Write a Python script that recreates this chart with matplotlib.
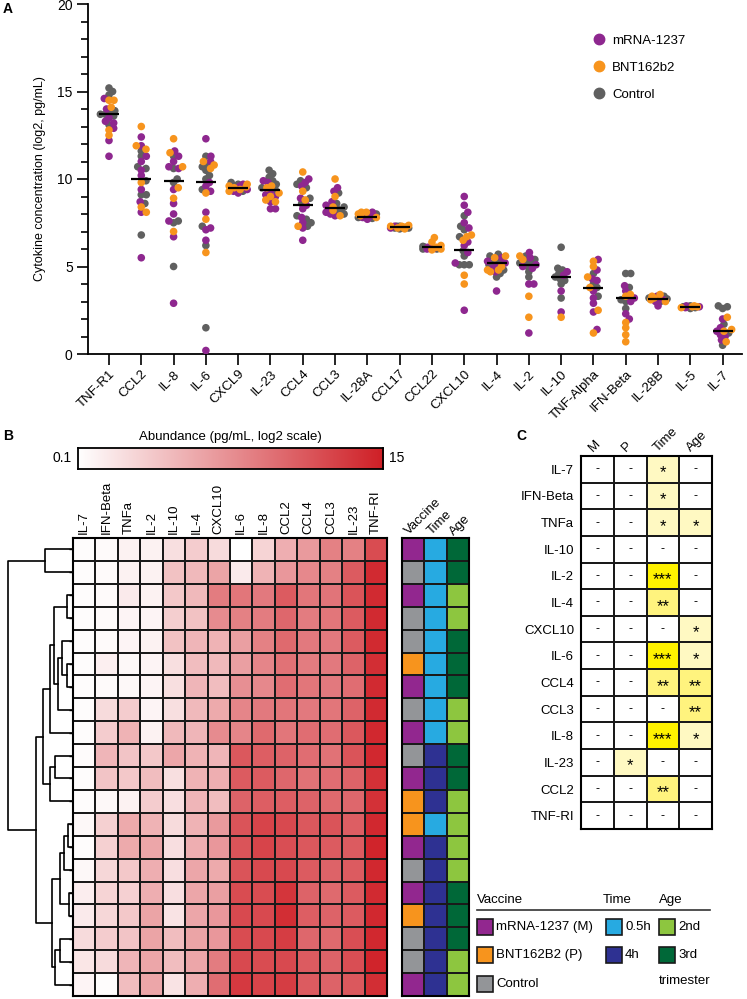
import numpy as np
import matplotlib
matplotlib.use("Agg")
import matplotlib.pyplot as plt
from matplotlib.colors import LinearSegmentedColormap, ListedColormap
from matplotlib.lines import Line2D
from matplotlib.patches import Rectangle

plt.rcParams['font.family'] = ['Liberation Sans', 'DejaVu Sans']

# ---------------- panel A data ----------------
cytokines = ["TNF-R1", "CCL2", "IL-8", "IL-6", "CXCL9", "IL-23", "CCL4", "CCL3", "IL-28A",
             "CCL17", "CCL22", "CXCL10", "IL-4", "IL-2", "IL-10", "TNF-Alpha", "IFN-Beta",
             "IL-28B", "IL-5", "IL-7"]
medians = [13.7, 10.0, 9.9, 9.85, 9.5, 9.4, 8.5, 8.35, 7.85, 7.25, 6.1, 5.95, 5.2, 5.1,
           4.4, 3.8, 3.2, 3.15, 2.7, 1.3]

mrna1237 = [
    [14.6, 14.0, 13.5, 13.3, 13.2, 12.9, 12.2, 11.3],
    [12.4, 11.9, 11.3, 11.0, 10.5, 10.2, 9.4, 8.7, 8.1, 5.5],
    [11.6, 11.3, 11.0, 10.7, 10.6, 9.4, 8.6, 8.0, 7.6, 6.7, 2.9],
    [12.3, 11.3, 11.0, 9.8, 9.6, 9.3, 8.1, 7.2, 7.1, 6.5, 0.2],
    [9.7, 9.5, 9.4, 9.3, 9.2, 9.6, 9.5],
    [9.9, 9.8, 9.3, 9.1, 9.0, 8.7, 8.3, 8.3],
    [10.0, 9.8, 9.6, 8.9, 8.5, 8.3, 7.8, 7.5, 7.2, 6.5],
    [9.5, 9.3, 8.7, 8.5, 8.1, 8.0, 7.9, 8.3],
    [8.0, 7.9, 7.8, 7.7, 7.9, 8.1],
    [7.2, 7.3],
    [6.0, 6.05, 6.1],
    [9.0, 8.5, 8.1, 7.5, 7.2, 6.4, 6.2, 5.8, 5.2, 2.5],
    [5.5, 5.3, 5.2, 5.0, 4.9, 4.7, 3.6],
    [5.8, 5.5, 5.1, 5.0, 4.9, 4.0, 4.0, 1.2],
    [4.7, 3.6, 2.4, 4.5],
    [5.4, 4.8, 4.3, 4.2, 3.6, 3.2, 2.9, 2.4, 1.4],
    [3.9, 3.6, 3.0, 2.3, 2.0, 3.2],
    [3.3, 3.2, 3.1, 3.0, 2.75],
    [2.7, 2.65, 2.75],
    [2.0, 1.5, 1.3, 1.0, 1.1, 0.8],
]
bnt162b2 = [
    [14.5, 14.5, 14.1, 12.8, 12.5],
    [13.0, 11.9, 11.7, 9.8, 8.4, 8.1],
    [12.3, 11.5, 10.7, 9.5, 8.9, 7.0],
    [11.0, 10.8, 10.6, 9.2, 7.7, 5.8],
    [9.7, 9.6, 9.5, 9.4, 9.3, 9.55],
    [9.6, 9.5, 9.2, 8.8, 8.7, 9.0],
    [10.4, 9.3, 8.8, 7.3],
    [10.0, 9.0, 8.4, 8.2, 7.9],
    [8.1, 8.0, 7.9, 7.8, 8.1],
    [7.35, 7.3, 7.25, 7.2, 7.15, 7.3],
    [6.65, 6.4, 6.2, 6.1, 6.0, 5.95, 6.1],
    [6.8, 6.7, 6.5, 4.5, 4.0],
    [5.6, 5.5, 5.0, 4.8, 4.7, 4.8],
    [5.6, 5.4, 3.3, 2.1],
    [2.1],
    [5.3, 5.0, 4.4, 3.8, 2.5, 1.2],
    [3.4, 3.3, 1.8, 1.5, 1.1, 0.7],
    [3.4, 3.3, 3.2, 3.1, 3.0],
    [2.7, 2.75, 2.65, 2.7],
    [2.1, 1.3, 0.7, 1.4],
]
control = [
    [15.2, 15.0, 14.8, 13.9, 13.8, 13.7, 13.7, 13.6, 13.1],
    [11.6, 11.3, 10.7, 10.6, 9.9, 9.1, 9.1, 8.6, 6.8],
    [11.3, 10.6, 10.0, 9.8, 7.6, 7.5, 5.0],
    [11.3, 10.8, 10.7, 10.5, 10.2, 10.0, 9.4, 7.3, 6.2, 1.5],
    [9.8, 9.7, 9.6, 9.5, 9.4, 9.3, 9.6],
    [10.5, 10.3, 10.1, 9.9, 9.7, 9.5, 9.4],
    [9.9, 9.7, 9.5, 8.9, 8.6, 7.9, 7.7, 7.5, 7.3],
    [9.2, 8.3, 8.2, 8.1, 8.0, 8.4, 8.6],
    [8.0, 7.9, 7.85, 7.8, 7.75, 8.0, 7.9],
    [7.3, 7.25, 7.2, 7.2, 7.15, 7.3, 7.25, 7.2],
    [6.1, 6.05, 6.0, 6.0, 6.15, 6.1],
    [7.9, 7.3, 7.1, 6.7, 5.9, 5.6, 5.1, 5.1, 5.1],
    [5.7, 5.6, 5.3, 5.2, 5.1, 4.8, 4.6, 4.4],
    [5.6, 5.4, 5.3, 5.2, 5.2, 4.7, 4.4, 5.0],
    [6.1, 4.9, 4.8, 4.6, 4.4, 4.3, 4.2, 4.0, 3.2],
    [4.6, 4.0, 3.8, 3.3],
    [4.6, 4.6, 3.8, 3.0, 2.6, 3.1],
    [3.3, 3.2, 3.1, 3.0, 3.15],
    [2.7, 2.65, 2.75, 2.7, 2.6],
    [2.75, 2.7, 2.6, 1.7, 0.5, 1.2],
]
group_names = ["mRNA-1237", "BNT162b2", "Control"]
group_colors = ["#8E278F", "#F7941D", "#606060"]

# ---------------- panel B data ----------------
hm_cols = ["IL-7", "IFN-Beta", "TNFa", "IL-2", "IL-10", "IL-4", "CXCL10", "IL-6", "IL-8",
           "CCL2", "CCL4", "CCL3", "IL-23", "TNF-RI"]
hm_values = np.array([
    [0.3, 0.5, 1.0, 1.0, 2.2, 3.5, 2.5, 0.1, 3.0, 5.5, 6.8, 8.5, 8.5, 12.0],
    [0.3, 0.5, 1.0, 1.0, 4.2, 4.8, 6.2, 1.5, 5.2, 7.0, 8.0, 8.5, 11.0, 14.2],
    [0.3, 0.5, 1.5, 1.0, 3.8, 4.8, 8.8, 9.2, 9.0, 11.0, 9.2, 9.3, 11.5, 14.2],
    [0.3, 0.5, 0.8, 0.8, 3.4, 4.2, 7.8, 8.5, 8.8, 10.2, 8.8, 9.2, 11.0, 14.2],
    [0.3, 0.5, 0.8, 1.0, 4.2, 5.0, 5.2, 6.5, 8.5, 10.0, 9.0, 9.0, 11.0, 14.3],
    [0.3, 1.2, 0.6, 0.8, 2.2, 4.5, 4.8, 6.5, 8.2, 9.5, 8.8, 9.0, 10.5, 14.0],
    [0.3, 0.5, 0.6, 0.8, 2.2, 5.0, 4.5, 7.5, 8.0, 9.8, 9.2, 9.0, 9.8, 14.2],
    [0.3, 2.5, 3.5, 0.8, 2.2, 4.8, 5.8, 8.2, 9.0, 9.2, 9.0, 9.2, 10.5, 14.2],
    [0.3, 3.5, 5.2, 1.0, 4.8, 5.0, 7.8, 8.2, 10.0, 9.2, 9.8, 9.8, 11.2, 14.4],
    [0.4, 5.0, 4.0, 3.8, 6.0, 5.2, 5.0, 11.2, 10.8, 10.5, 9.8, 9.5, 11.5, 14.4],
    [0.3, 4.0, 3.8, 4.5, 2.2, 5.2, 5.5, 11.0, 11.0, 10.2, 9.5, 9.8, 10.5, 13.8],
    [0.3, 0.6, 1.0, 3.5, 2.3, 5.0, 4.5, 10.5, 10.8, 10.8, 10.5, 10.0, 10.2, 13.8],
    [0.6, 3.3, 5.8, 5.2, 2.5, 5.2, 6.8, 11.5, 12.5, 12.2, 11.2, 11.5, 10.8, 14.4],
    [0.3, 3.3, 5.8, 6.0, 2.3, 5.5, 7.0, 11.5, 12.5, 11.8, 11.2, 11.0, 11.0, 14.6],
    [0.6, 2.8, 3.8, 5.5, 2.3, 6.0, 5.8, 11.5, 12.2, 12.2, 11.0, 10.5, 11.0, 14.4],
    [1.3, 3.0, 3.2, 5.5, 2.3, 6.0, 6.5, 12.0, 12.0, 13.5, 10.5, 10.0, 11.0, 14.2],
    [1.5, 2.8, 3.8, 6.2, 2.0, 6.0, 7.0, 12.2, 12.2, 14.0, 10.8, 10.5, 11.0, 14.4],
    [2.5, 3.5, 4.0, 6.2, 4.5, 6.2, 7.0, 12.0, 12.2, 13.0, 10.2, 10.0, 11.8, 14.4],
    [1.8, 2.5, 5.0, 6.0, 4.5, 6.0, 8.8, 12.2, 12.0, 12.2, 11.0, 10.5, 11.8, 14.6],
    [0.8, 0.3, 4.5, 6.0, 2.0, 5.5, 9.8, 13.2, 12.5, 13.0, 11.0, 10.5, 11.2, 14.0],
])
vaccine = ["M", "C", "M", "C", "C", "P", "M", "C", "M", "C", "M", "P", "P", "M", "C", "M",
           "P", "C", "C", "M"]
time_pt = ["0.5h"] * 9 + ["4h", "4h", "4h", "0.5h", "4h", "4h", "4h", "4h", "4h", "4h", "4h"]
age = ["3rd", "3rd", "2nd", "2nd", "3rd", "3rd", "3rd", "2nd", "2nd", "3rd", "3rd", "2nd",
       "2nd", "2nd", "2nd", "3rd", "3rd", "3rd", "2nd", "2nd"]
# dendrogram merges: (child a, child b, height); leaves 0..19, new nodes 20..
merges = [(0, 1, 28), (2, 3, 6), (5, 6, 6), (4, 22, 11), (23, 7, 15), (21, 24, 19),
          (25, 8, 23), (9, 10, 18), (27, 11, 23), (26, 28, 30), (12, 13, 5), (30, 14, 9),
          (15, 16, 4), (31, 32, 13), (17, 18, 13), (34, 19, 18), (33, 35, 21),
          (29, 36, 37), (20, 37, 65)]

# ---------------- panel C data ----------------
c_rows = ["IL-7", "IFN-Beta", "TNFa", "IL-10", "IL-2", "IL-4", "CXCL10", "IL-6", "CCL4",
          "CCL3", "IL-8", "IL-23", "CCL2", "TNF-RI"]
c_cols = ["M", "P", "Time", "Age"]
c_stars = [[0, 0, 1, 0], [0, 0, 1, 0], [0, 0, 1, 1], [0, 0, 0, 0], [0, 0, 3, 0],
           [0, 0, 2, 0], [0, 0, 0, 1], [0, 0, 3, 1], [0, 0, 2, 2], [0, 0, 0, 2],
           [0, 0, 3, 1], [0, 1, 0, 0], [0, 0, 2, 0], [0, 0, 0, 0]]

W, H = 747, 999
fig = plt.figure(figsize=(W / 100, H / 100), dpi=100)


def px_axes(x0, y0, x1, y1):
    return fig.add_axes([x0 / W, 1 - y1 / H, (x1 - x0) / W, (y1 - y0) / H])


# ================= panel A =================
axA = px_axes(88, 4, 742, 354)
XPX, YPX = 32.3, 17.5


def swarm(vals, d=5.0, maxw=9.0):
    # beeswarm in pixel space, clipped to +-maxw px (points pile up / overlap beyond that)
    ys = np.asarray(vals) * YPX
    xs = np.zeros(len(ys))
    placed = []
    grid = np.arange(-maxw, maxw + 0.01, 1.0)
    for i in np.argsort(ys):
        y = ys[i]
        cands = [0.0]
        for px, py in placed:
            dy = y - py
            if abs(dy) < d:
                dx = np.sqrt(d * d - dy * dy)
                cands += [px + dx, px - dx]
        cands = [c for c in cands if abs(c) <= maxw]
        cands.sort(key=abs)
        chosen = None
        for c in cands:
            if all((c - px) ** 2 + (y - py) ** 2 >= d * d - 1e-6 for px, py in placed):
                chosen = c
                break
        if chosen is None:
            best = -1
            for c in sorted(grid, key=abs):
                m = min((c - px) ** 2 + (y - py) ** 2 for px, py in placed)
                if m > best + 1e-6:
                    best, chosen = m, c
        xs[i] = chosen
        placed.append((chosen, y))
    return xs / XPX


for i in range(len(cytokines)):
    vals = control[i] + mrna1237[i] + bnt162b2[i]
    cols = ([group_colors[2]] * len(control[i]) + [group_colors[0]] * len(mrna1237[i])
            + [group_colors[1]] * len(bnt162b2[i]))
    off = swarm(vals)
    axA.scatter(i + off, vals, s=30, c=cols, linewidths=0, zorder=3)
axA.hlines(medians, np.arange(len(cytokines)) - 0.31, np.arange(len(cytokines)) + 0.31,
           color="black", lw=1.6, zorder=5)

axA.set_xlim(-0.65, 19.6)
axA.set_ylim(0, 20)
axA.set_yticks([0, 5, 10, 15, 20])
axA.set_yticks(np.arange(0, 21, 1), minor=True)
axA.set_xticks(np.arange(len(cytokines)))
axA.set_xticklabels(cytokines, rotation=45, ha="right", rotation_mode="anchor", fontsize=9.5)
axA.tick_params(axis="y", which="major", length=8, width=1.2, labelsize=10, pad=3)
axA.tick_params(axis="y", which="minor", length=5, width=1.2)
axA.tick_params(axis="x", length=8, width=1.2, pad=2)
for s in ["top", "right"]:
    axA.spines[s].set_visible(False)
for s in ["left", "bottom"]:
    axA.spines[s].set_linewidth(1.3)
axA.set_ylabel("Cytokine concentration (log2, pg/mL)", fontsize=9, labelpad=8)
handles = [Line2D([], [], marker="o", ls="", color=c, markersize=7.5) for c in group_colors]
axA.legend(handles, group_names, loc="upper left", bbox_to_anchor=(0.771, 0.912),
           frameon=False, fontsize=9.5, labelspacing=1.1, handletextpad=0.5,
           borderpad=0, borderaxespad=0, handlelength=1)

# ================= panel B =================
cmap = LinearSegmentedColormap.from_list("wr", ["#FFFFFF", "#CF1F26"])
axH = px_axes(73, 538, 387, 996)
axH.pcolormesh(hm_values, cmap=cmap, vmin=0.1, vmax=15, edgecolors="#1a1a1a", linewidth=1.2)
axH.set_xlim(0, len(hm_cols))
axH.set_ylim(len(hm_values), 0)
axH.xaxis.tick_top()
axH.set_xticks(np.arange(len(hm_cols)) + 0.5)
axH.set_xticklabels(hm_cols, rotation=90, fontsize=9.5)
axH.set_yticks(np.arange(len(hm_values)) + 0.5)
axH.set_yticklabels([])
axH.tick_params(axis="x", length=0, pad=3)
axH.tick_params(axis="y", length=3, width=1)
for s in axH.spines.values():
    s.set_linewidth(1.5)

# colour bar
axCB = px_axes(78, 448, 383, 469)
axCB.imshow(np.linspace(0.1, 15, 256)[None, :], aspect="auto", cmap=cmap, vmin=0.1, vmax=15)
axCB.set_xticks([])
axCB.set_yticks([])
for s in axCB.spines.values():
    s.set_linewidth(1.3)
axCB.text(-0.02, 0.5, "0.1", transform=axCB.transAxes, ha="right", va="center", fontsize=10)
axCB.text(1.02, 0.5, "15", transform=axCB.transAxes, ha="left", va="center", fontsize=10)
axCB.text(0.5, 1.25, "Abundance (pg/mL, log2 scale)", transform=axCB.transAxes,
          ha="center", va="bottom", fontsize=9.5)

# annotation columns
ann_colors = {"M": "#92278F", "P": "#F7941D", "C": "#939598", "0.5h": "#27AAE1",
              "4h": "#2E3192", "2nd": "#8DC63F", "3rd": "#006838"}
ann_keys = list(ann_colors)
ann = np.array([[ann_keys.index(v), ann_keys.index(t), ann_keys.index(a)]
                for v, t, a in zip(vaccine, time_pt, age)])
axN = px_axes(402, 538, 469, 996)
axN.pcolormesh(ann, cmap=ListedColormap(list(ann_colors.values())), vmin=-0.5,
               vmax=len(ann_keys) - 0.5, edgecolors="#1a1a1a", linewidth=1.2)
axN.set_xlim(0, 3)
axN.set_ylim(len(ann), 0)
axN.set_xticks([])
axN.set_yticks([])
for s in axN.spines.values():
    s.set_linewidth(1.5)
for j, lab in enumerate(["Vaccine", "Time", "Age"]):
    axN.text(j + 0.42, -0.02, lab, rotation=45, ha="left", va="bottom",
             rotation_mode="anchor", fontsize=9.5)

# dendrogram
axD = px_axes(0, 538, 73, 996)
pos = {i: i + 0.5 for i in range(len(hm_values))}
hgt = {i: 0 for i in range(len(hm_values))}
for k, (a, b, h) in enumerate(merges):
    node = len(hm_values) + k
    axD.plot([hgt[a], h, h, hgt[b]], [pos[a], pos[a], pos[b], pos[b]], color="black", lw=1.2)
    pos[node] = (pos[a] + pos[b]) / 2
    hgt[node] = h
axD.set_xlim(73, 0)
axD.set_ylim(len(hm_values), 0)
axD.axis("off")

# ================= panel C =================
star_colors = ["#FFFFFF", "#FFF9C2", "#FFF37E", "#FFF200"]
axC = px_axes(581, 456, 712, 829)
axC.pcolormesh(np.array(c_stars), cmap=ListedColormap(star_colors), vmin=-0.5, vmax=3.5,
               edgecolors="#1a1a1a", linewidth=1.2)
axC.set_xlim(0, 4)
axC.set_ylim(len(c_rows), 0)
for r, row in enumerate(c_stars):
    for c, n in enumerate(row):
        if n == 0:
            axC.text(c + 0.5, r + 0.5, "-", ha="center", va="center", fontsize=9)
        else:
            axC.text(c + 0.5, r + 0.64, "*" * n, ha="center", va="center", fontsize=12)
axC.set_xticks([])
axC.set_yticks(np.arange(len(c_rows)) + 0.5)
axC.set_yticklabels(c_rows, fontsize=9.5)
axC.tick_params(axis="y", length=0, pad=5)
for s in axC.spines.values():
    s.set_linewidth(1.5)
for j, lab in enumerate(c_cols):
    axC.text(j + 0.42, -0.08, lab, rotation=45, ha="left", va="bottom",
             rotation_mode="anchor", fontsize=9.5)

# ================= bottom legend =================
axL = px_axes(470, 888, 730, 999)
axL.set_xlim(470, 730)
axL.set_ylim(999, 888)
axL.axis("off")
axL.plot([477, 710], [910, 910], color="#333333", lw=1.2)
axL.text(477, 900, "Vaccine", va="center", fontsize=9.5)
axL.text(603, 900, "Time", va="center", fontsize=9.5)
axL.text(659, 900, "Age", va="center", fontsize=9.5)
legend_items = [(477, 927, "M", "mRNA-1237 (M)"), (477, 955, "P", "BNT162B2 (P)"),
                (477, 984, "C", "Control"), (606, 927, "0.5h", "0.5h"),
                (606, 955, "4h", "4h"), (659, 927, "2nd", "2nd"), (659, 955, "3rd", "3rd")]
for x, y, key, lab in legend_items:
    axL.add_patch(Rectangle((x, y - 8), 16, 16, facecolor=ann_colors[key],
                            edgecolor="#1a1a1a", lw=1.2))
    axL.text(x + 19, y, lab, va="center", fontsize=9.5)
axL.text(659, 981, "trimester", va="center", fontsize=9.5)

# panel letters
fig.text(3 / W, 1 - 9 / H, "A", fontsize=10, fontweight="bold", va="center")
fig.text(3 / W, 1 - 436 / H, "B", fontsize=10, fontweight="bold", va="center")
fig.text(516 / W, 1 - 436 / H, "C", fontsize=10, fontweight="bold", va="center")

fig.savefig("out.png", dpi=100)
